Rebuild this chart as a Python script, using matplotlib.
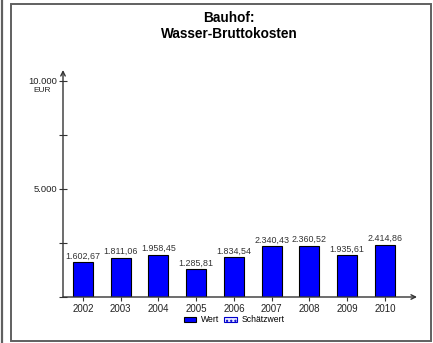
import matplotlib
matplotlib.use('Agg')
import matplotlib.pyplot as plt
from matplotlib.patches import Patch, Rectangle
from matplotlib.lines import Line2D

plt.rcParams['font.family'] = ['Liberation Sans', 'DejaVu Sans']

years = ['2002', '2003', '2004', '2005', '2006', '2007', '2008', '2009', '2010']
values = [1602.67, 1811.06, 1958.45, 1285.81, 1834.54, 2340.43, 2360.52, 1935.61, 2414.86]
y_ticks = [0, 2500, 5000, 7500, 10000]
y_labels = ['', '', '5.000', '', '10.000']


def fmt_de(v):
    s = f"{v:,.2f}"
    return s.replace(',', 'X').replace('.', ',').replace('X', '.')


W, H = 433, 343
fig = plt.figure(figsize=(W / 100, H / 100), dpi=100)

# outer frame
fig.add_artist(Line2D([1.5 / W, 1.5 / W], [0, 1], color='#606060', lw=1.6))
fig.add_artist(Rectangle((11 / W, 2 / H), 420 / W, 337 / H, fill=False,
                         edgecolor='#606060', lw=1.4))

ax = fig.add_axes([63 / W, 1 - 297 / H, (417 - 63) / W, (297 - 70) / H])
x = list(range(len(years)))
ax.bar(x, values, width=0.53, color='#0000ff', edgecolor='black', linewidth=0.8)
for xi, v in zip(x, values):
    ax.annotate(fmt_de(v), (xi, v), xytext=(0, 1.2), textcoords='offset points',
                ha='center', va='bottom', fontsize=6.4, color='#333333')

ax.set_xlim(-0.53, len(years) - 1 + 0.85)
ax.set_ylim(0, 10500)
for s in ax.spines.values():
    s.set_visible(False)

# axis arrows
ax.annotate('', xy=(1.0, 0), xytext=(0, 0), xycoords='axes fraction',
            arrowprops=dict(arrowstyle='->', color='#333333', lw=1.0,
                            shrinkA=0, shrinkB=0, mutation_scale=8))
ax.annotate('', xy=(0, 1.0), xytext=(0, 0), xycoords='axes fraction',
            arrowprops=dict(arrowstyle='->', color='#333333', lw=1.0,
                            shrinkA=0, shrinkB=0, mutation_scale=8))

ax.set_xticks(x)
ax.set_xticklabels(years, fontsize=7, color='#222222')
ax.tick_params(axis='x', direction='out', length=3, width=0.8, pad=2, color='#333333')
ax.set_yticks(y_ticks)
ax.set_yticklabels(y_labels, fontsize=6.8, color='#222222')
ax.tick_params(axis='y', direction='inout', length=6, width=0.8, pad=1, color='#333333')
ax.text(-0.06, 0.91, 'EUR', transform=ax.transAxes, ha='center', va='center',
        fontsize=6, color='#222222')

fig.text(229 / W, 1 - 26 / H, 'Bauhof:\nWasser-Bruttokosten', ha='center', va='center',
         fontsize=9.8, fontweight='bold', linespacing=1.2)

handles = [Patch(facecolor='#0000ff', edgecolor='black', lw=0.8, label='Wert'),
           Patch(facecolor='#e8e8ff', edgecolor='#0000cc', hatch='....', lw=0.8,
                 label='Schätzwert')]
fig.legend(handles=handles, loc='center', bbox_to_anchor=(234 / W, 1 - 320 / H),
           ncol=2, frameon=False, fontsize=6.2, handlelength=1.5, handleheight=0.5,
           handletextpad=0.5, columnspacing=0.6, borderpad=0)

fig.savefig('out.png', dpi=100)
